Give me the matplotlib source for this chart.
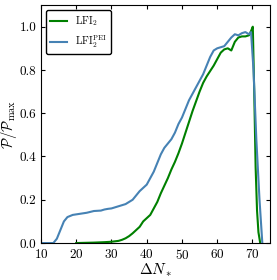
"""P/Pmax vs Delta N_* for LFI2 and LFI2 PEI."""
import matplotlib
matplotlib.use("Agg")
import matplotlib.pyplot as plt

plt.rcParams["font.family"] = "serif"
plt.rcParams["font.serif"] = ["cmr10"]
plt.rcParams["mathtext.fontset"] = "cm"
plt.rcParams["axes.formatter.use_mathtext"] = True

blue_x = [10, 13.5, 14.5, 15.5, 16.5, 17.5, 19, 21, 23, 25, 27, 28, 29, 30, 32,
          34, 35, 36, 37, 38, 39, 40, 41, 42, 43, 44, 45, 46, 47, 48, 49, 50,
          51, 52, 53, 54, 55, 56, 57, 58, 59, 60, 61, 62, 63, 64, 65, 66, 67,
          68, 69, 69.6, 70.3, 71.1, 72, 72.8]
blue_y = [0, 0, 0.02, 0.06, 0.10, 0.12, 0.13, 0.135, 0.14, 0.148, 0.15, 0.155,
          0.158, 0.16, 0.17, 0.18, 0.19, 0.20, 0.22, 0.24, 0.255, 0.27, 0.30,
          0.33, 0.37, 0.41, 0.44, 0.46, 0.48, 0.51, 0.55, 0.58, 0.62, 0.66,
          0.69, 0.72, 0.75, 0.78, 0.82, 0.86, 0.89, 0.90, 0.905, 0.91, 0.93,
          0.95, 0.965, 0.96, 0.97, 0.975, 0.965, 0.975, 0.8, 0.48, 0.2, 0.0]

green_x = [20, 25, 28, 30, 32, 33, 34, 35, 36, 37, 38, 39, 40, 41, 42, 43, 44,
           45, 46, 47, 48, 49, 50, 51, 52, 53, 54, 55, 56, 57, 58, 59, 60, 61,
           62, 63, 64, 65, 66, 67, 68, 69, 69.6, 70.1, 70.5, 70.9, 71.3, 71.7,
           72.2]
green_y = [0, 0.002, 0.004, 0.006, 0.01, 0.015, 0.022, 0.032, 0.045, 0.06,
           0.075, 0.1, 0.115, 0.13, 0.16, 0.19, 0.23, 0.265, 0.30, 0.34, 0.375,
           0.415, 0.46, 0.51, 0.56, 0.61, 0.655, 0.70, 0.74, 0.77, 0.795, 0.82,
           0.85, 0.88, 0.895, 0.90, 0.89, 0.93, 0.95, 0.955, 0.955, 0.96, 0.98,
           1.0, 0.7, 0.35, 0.15, 0.05, 0.0]

fig = plt.figure(figsize=(2.77, 2.80), dpi=100)
ax = fig.add_axes([0.148, 0.132, 0.827, 0.85])

ax.plot(green_x, green_y, color="#008000", lw=1.5, label=r"LFI$_2$")
ax.plot(blue_x, blue_y, color="#4682b4", lw=1.5, label=r"LFI$_2^{\rm PEI}$")

ax.set_xlim(10, 75)
ax.set_ylim(0, 1.1)
ax.set_xticks([10, 20, 30, 40, 50, 60, 70])
ax.set_yticks([0.0, 0.2, 0.4, 0.6, 0.8, 1.0])
ax.set_yticklabels(["0.0", "0.2", "0.4", "0.6", "0.8", "1.0"])
ax.tick_params(direction="in", top=True, right=True, labelsize=9.5, length=3)
ax.set_xlabel(r"$\Delta N_*$", fontsize=11, labelpad=0)
ax.set_ylabel(r"$\mathcal{P}/\mathcal{P}_{\max}$", fontsize=10.5, labelpad=0)
ax.legend(loc="upper left", fontsize=7.5, handlelength=1.6, handletextpad=0.8,
          borderpad=0.4, fancybox=True, edgecolor="black", framealpha=1)

fig.savefig("out.png", dpi=100)
